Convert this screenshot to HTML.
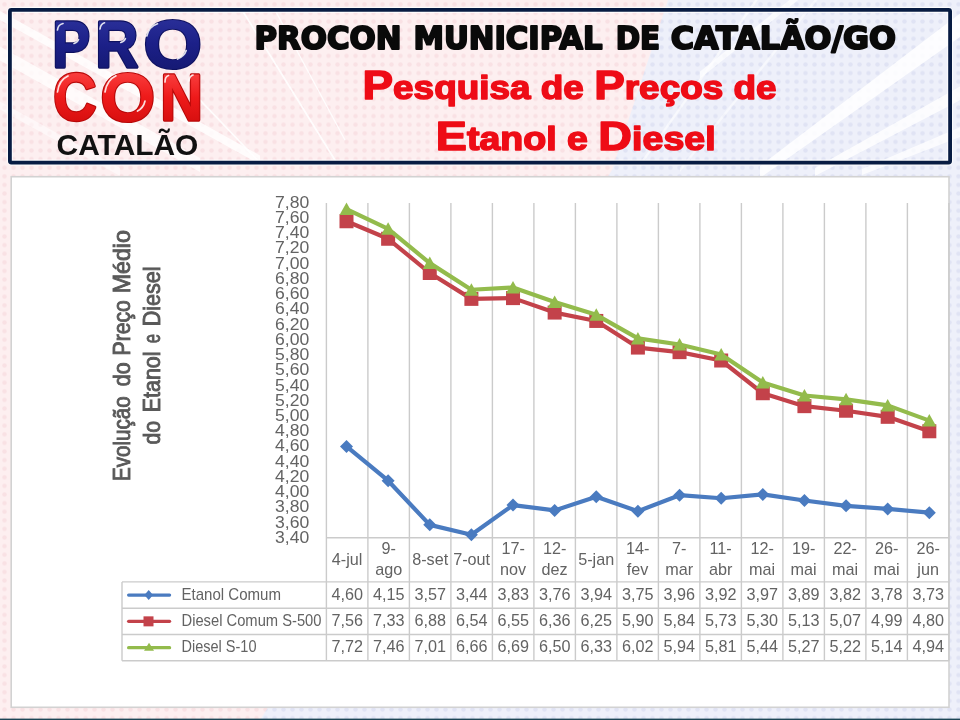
<!DOCTYPE html>
<html><head><meta charset="utf-8"><title>PROCON Catalão - Pesquisa de Preços</title>
<style>
html,body{margin:0;padding:0;}
body{width:960px;height:720px;overflow:hidden;position:relative;background:#f3e6ee;}
svg{position:absolute;left:0;top:0;display:block;}
.ax{font-family:'Liberation Sans', Arial, sans-serif;font-size:16.2px;fill:#636363;}
.yt{font-family:'Liberation Sans', Arial, sans-serif;font-size:23.2px;fill:#595959;stroke:#595959;stroke-width:0.9px;}
.t1{font-family:'DejaVu Sans','Liberation Sans',sans-serif;font-weight:bold;font-size:31.5px;fill:#0a0a0a;stroke:#0a0a0a;stroke-width:2px;stroke-linejoin:round;}
.t2{font-family:'Liberation Sans',sans-serif;font-weight:bold;font-size:33px;fill:#ee0c16;stroke:#ee0c16;stroke-width:1.5px;stroke-linejoin:round;}
.cap{font-size:41px;}
.logo{font-family:'Liberation Sans',sans-serif;font-weight:bold;stroke-linejoin:round;}
.cat{font-family:'Liberation Sans',Arial,sans-serif;font-weight:bold;font-size:29.6px;fill:#111;}
</style></head>
<body>
<svg width="960" height="720" viewBox="0 0 960 720">
<defs>
 <pattern id="dotsP" width="9" height="8.6" patternUnits="userSpaceOnUse"><rect width="9" height="8.6" fill="#fdeff0"/><circle cx="4.5" cy="4.3" r="2.2" fill="#f9e1e4"/></pattern>
 <pattern id="dotsB" width="9" height="8.6" patternUnits="userSpaceOnUse"><rect width="9" height="8.6" fill="#eef0fa"/><circle cx="4.5" cy="4.3" r="2.2" fill="#e0e3f4"/></pattern>
 <linearGradient id="gpro" x1="0" y1="0" x2="0" y2="1">
  <stop offset="0" stop-color="#3036a0"/><stop offset="0.5" stop-color="#1c2088"/><stop offset="1" stop-color="#12166a"/>
 </linearGradient>
 <linearGradient id="gcon" x1="0" y1="0" x2="0" y2="1">
  <stop offset="0" stop-color="#ff5050"/><stop offset="0.5" stop-color="#ee1a1a"/><stop offset="1" stop-color="#cc0a0a"/>
 </linearGradient>
</defs>
<rect x="0" y="0" width="960" height="720" fill="url(#dotsP)"/>
<polygon points="668,0 960,0 960,720 260,720 612,170" fill="url(#dotsB)"/>
<polygon points="-10,5.5 260,155.5 260,164.5 -10,14.5" fill="#ffffff" opacity="0.8"/>
<polygon points="-10,41.0 200,158.0 200,172.0 -10,55.0" fill="#ffffff" opacity="0.75"/>
<polygon points="-10,96.0 120,168.0 120,176.0 -10,104.0" fill="#ffffff" opacity="0.5"/>
<polygon points="760,166.0 970,6.0 970,30.0 760,178.0" fill="#ffffff" opacity="0.85"/>
<polygon points="815,168.0 970,81.0 970,95.0 815,176.0" fill="#ffffff" opacity="0.8"/>
<polygon points="862,169.0 970,123.0 970,133.0 862,175.0" fill="#ffffff" opacity="0.75"/>
<polygon points="700,71.5 800,-8.5 800,-1.5 700,78.5" fill="#ffffff" opacity="0.7"/>
<polygon points="640,163.0 760,-7.0 760,-3.0 640,167.0" fill="#ffffff" opacity="0.6"/>
<polygon points="680,168.0 820,-7.0 820,-3.0 680,172.0" fill="#ffffff" opacity="0.5"/>
<line x1="242" y1="10" x2="338" y2="165" stroke="#ffffff" stroke-width="1.6" opacity="0.9"/>
<line x1="275" y1="10" x2="345" y2="140" stroke="#ffffff" stroke-width="1.2" opacity="0.9"/>
<line x1="200" y1="100" x2="262" y2="165" stroke="#ffffff" stroke-width="1.6" opacity="0.9"/>
<!-- header -->
<rect x="9.9" y="9.9" width="940.2" height="152.7" rx="1.5" fill="none" stroke="#ffffff" stroke-width="6" opacity="0.8"/>
<rect x="9.9" y="9.9" width="940.2" height="152.7" rx="1.5" fill="none" stroke="#071b42" stroke-width="3.8"/>
<text transform="translate(52.43,66.66) scale(0.5621,0.6429)" class="logo" font-size="100" fill="#0e1160" stroke="#0e1160" stroke-width="3.2" stroke-linejoin="round" vector-effect="non-scaling-stroke">P</text>
<text transform="translate(52.43,66.66) scale(0.5621,0.6429)" class="logo" font-size="100" fill="url(#gpro)" stroke="url(#gpro)" stroke-width="1.0" stroke-linejoin="round" vector-effect="non-scaling-stroke">P</text>
<text transform="translate(95.55,67.30) scale(0.5923,0.6522)" class="logo" font-size="100" fill="#0e1160" stroke="#0e1160" stroke-width="3.2" stroke-linejoin="round" vector-effect="non-scaling-stroke">R</text>
<text transform="translate(95.55,67.30) scale(0.5923,0.6522)" class="logo" font-size="100" fill="url(#gpro)" stroke="url(#gpro)" stroke-width="1.0" stroke-linejoin="round" vector-effect="non-scaling-stroke">R</text>
<text transform="translate(143.59,67.72) scale(0.7514,0.6803)" class="logo" font-size="100" fill="#0e1160" stroke="#0e1160" stroke-width="3.2" stroke-linejoin="round" vector-effect="non-scaling-stroke">O</text>
<text transform="translate(143.59,67.72) scale(0.7514,0.6803)" class="logo" font-size="100" fill="url(#gpro)" stroke="url(#gpro)" stroke-width="1.0" stroke-linejoin="round" vector-effect="non-scaling-stroke">O</text>
<text transform="translate(53.21,120.24) scale(0.5985,0.6634)" class="logo" font-size="100" fill="#b80808" stroke="#b80808" stroke-width="3.2" stroke-linejoin="round" vector-effect="non-scaling-stroke">C</text>
<text transform="translate(53.21,120.24) scale(0.5985,0.6634)" class="logo" font-size="100" fill="url(#gcon)" stroke="url(#gcon)" stroke-width="1.0" stroke-linejoin="round" vector-effect="non-scaling-stroke">C</text>
<text transform="translate(100.49,120.72) scale(0.7014,0.6803)" class="logo" font-size="100" fill="#b80808" stroke="#b80808" stroke-width="3.2" stroke-linejoin="round" vector-effect="non-scaling-stroke">O</text>
<text transform="translate(100.49,120.72) scale(0.7014,0.6803)" class="logo" font-size="100" fill="url(#gcon)" stroke="url(#gcon)" stroke-width="1.0" stroke-linejoin="round" vector-effect="non-scaling-stroke">O</text>
<text transform="translate(160.59,119.90) scale(0.5850,0.6471)" class="logo" font-size="100" fill="#b80808" stroke="#b80808" stroke-width="3.2" stroke-linejoin="round" vector-effect="non-scaling-stroke">N</text>
<text transform="translate(160.59,119.90) scale(0.5850,0.6471)" class="logo" font-size="100" fill="url(#gcon)" stroke="url(#gcon)" stroke-width="1.0" stroke-linejoin="round" vector-effect="non-scaling-stroke">N</text>
<path d="M57.5,30 Q58,24.5 63,23.5" fill="none" stroke="#ffffff" stroke-width="1.7" stroke-linecap="round" opacity="0.85"/>
<path d="M74,43.5 Q77.5,42.5 78.5,39.5" fill="none" stroke="#ffffff" stroke-width="1.7" stroke-linecap="round" opacity="0.85"/>
<path d="M100,29 Q100.5,24 104.5,22.8" fill="none" stroke="#ffffff" stroke-width="1.7" stroke-linecap="round" opacity="0.85"/>
<path d="M120.8,42.5 Q124.5,41.5 125.4,38.5" fill="none" stroke="#ffffff" stroke-width="1.7" stroke-linecap="round" opacity="0.85"/>
<path d="M146.8,36 Q149,26.5 157.5,23.8" fill="none" stroke="#ffffff" stroke-width="1.7" stroke-linecap="round" opacity="0.85"/>
<path d="M177.5,59 Q184.5,56 186.2,50.5" fill="none" stroke="#ffffff" stroke-width="1.7" stroke-linecap="round" opacity="0.85"/>
<path d="M57.5,92 Q59,80 68,76" fill="none" stroke="#ffffff" stroke-width="1.7" stroke-linecap="round" opacity="0.85"/>
<path d="M105,92 Q107,80 116,75.8" fill="none" stroke="#ffffff" stroke-width="1.7" stroke-linecap="round" opacity="0.85"/>
<path d="M137.5,111 Q143.5,108 145,101" fill="none" stroke="#ffffff" stroke-width="1.7" stroke-linecap="round" opacity="0.85"/>
<path d="M165,82 Q165,76.5 168.5,75.5" fill="none" stroke="#ffffff" stroke-width="1.7" stroke-linecap="round" opacity="0.85"/>
<path d="M189,81 Q189.5,76 193,75" fill="none" stroke="#ffffff" stroke-width="1.7" stroke-linecap="round" opacity="0.85"/>
<text x="56.6" y="155" class="cat" textLength="141.8" lengthAdjust="spacingAndGlyphs">CATALÃO</text>
<text y="48.6" class="t1"><tspan x="254.44" textLength="147.17" lengthAdjust="spacingAndGlyphs">PROCON</tspan> <tspan x="413.46" textLength="189.11" lengthAdjust="spacingAndGlyphs">MUNICIPAL</tspan> <tspan x="615.73" textLength="44.48" lengthAdjust="spacingAndGlyphs">DE</tspan> <tspan x="670.69" textLength="225.39" lengthAdjust="spacingAndGlyphs">CATALÃO/GO</tspan></text>
<text x="362.5" y="98.8" class="t2" textLength="414.1" lengthAdjust="spacingAndGlyphs"><tspan class="cap">P</tspan>esquisa de <tspan class="cap">P</tspan>reços de</text>
<text x="435.8" y="149.6" class="t2" textLength="279.8" lengthAdjust="spacingAndGlyphs"><tspan class="cap">E</tspan>tanol e <tspan class="cap">D</tspan>iesel</text>
<!-- chart box -->
<rect x="11.2" y="176.7" width="937.8" height="530.6" fill="#ffffff" stroke="#d2d2d2" stroke-width="1.6"/>
<line x1="326.40" y1="203.0" x2="326.40" y2="660.8" stroke="#cbcbcb" stroke-width="1.4"/>
<line x1="367.90" y1="203.0" x2="367.90" y2="660.8" stroke="#cbcbcb" stroke-width="1.4"/>
<line x1="409.40" y1="203.0" x2="409.40" y2="660.8" stroke="#cbcbcb" stroke-width="1.4"/>
<line x1="450.90" y1="203.0" x2="450.90" y2="660.8" stroke="#cbcbcb" stroke-width="1.4"/>
<line x1="492.40" y1="203.0" x2="492.40" y2="660.8" stroke="#cbcbcb" stroke-width="1.4"/>
<line x1="533.90" y1="203.0" x2="533.90" y2="660.8" stroke="#cbcbcb" stroke-width="1.4"/>
<line x1="575.40" y1="203.0" x2="575.40" y2="660.8" stroke="#cbcbcb" stroke-width="1.4"/>
<line x1="616.90" y1="203.0" x2="616.90" y2="660.8" stroke="#cbcbcb" stroke-width="1.4"/>
<line x1="658.40" y1="203.0" x2="658.40" y2="660.8" stroke="#cbcbcb" stroke-width="1.4"/>
<line x1="699.90" y1="203.0" x2="699.90" y2="660.8" stroke="#cbcbcb" stroke-width="1.4"/>
<line x1="741.40" y1="203.0" x2="741.40" y2="660.8" stroke="#cbcbcb" stroke-width="1.4"/>
<line x1="782.90" y1="203.0" x2="782.90" y2="660.8" stroke="#cbcbcb" stroke-width="1.4"/>
<line x1="824.40" y1="203.0" x2="824.40" y2="660.8" stroke="#cbcbcb" stroke-width="1.4"/>
<line x1="865.90" y1="203.0" x2="865.90" y2="660.8" stroke="#cbcbcb" stroke-width="1.4"/>
<line x1="907.40" y1="203.0" x2="907.40" y2="660.8" stroke="#cbcbcb" stroke-width="1.4"/>
<line x1="948.90" y1="203.0" x2="948.90" y2="660.8" stroke="#cbcbcb" stroke-width="1.4"/>
<line x1="326.40" y1="537.8" x2="948.9" y2="537.8" stroke="#cbcbcb" stroke-width="1.4"/>
<line x1="122" y1="581.9" x2="948.9" y2="581.9" stroke="#cbcbcb" stroke-width="1.4"/>
<line x1="122" y1="608.2" x2="948.9" y2="608.2" stroke="#cbcbcb" stroke-width="1.4"/>
<line x1="122" y1="634.5" x2="948.9" y2="634.5" stroke="#cbcbcb" stroke-width="1.4"/>
<line x1="122" y1="660.8" x2="948.9" y2="660.8" stroke="#cbcbcb" stroke-width="1.4"/>
<line x1="122" y1="581.9" x2="122" y2="660.8" stroke="#cbcbcb" stroke-width="1.4"/>
<text x="309.3" y="207.80" text-anchor="end" class="ax" textLength="34.2" lengthAdjust="spacingAndGlyphs">7,80</text>
<text x="309.3" y="223.03" text-anchor="end" class="ax" textLength="34.2" lengthAdjust="spacingAndGlyphs">7,60</text>
<text x="309.3" y="238.26" text-anchor="end" class="ax" textLength="34.2" lengthAdjust="spacingAndGlyphs">7,40</text>
<text x="309.3" y="253.49" text-anchor="end" class="ax" textLength="34.2" lengthAdjust="spacingAndGlyphs">7,20</text>
<text x="309.3" y="268.72" text-anchor="end" class="ax" textLength="34.2" lengthAdjust="spacingAndGlyphs">7,00</text>
<text x="309.3" y="283.95" text-anchor="end" class="ax" textLength="34.2" lengthAdjust="spacingAndGlyphs">6,80</text>
<text x="309.3" y="299.18" text-anchor="end" class="ax" textLength="34.2" lengthAdjust="spacingAndGlyphs">6,60</text>
<text x="309.3" y="314.41" text-anchor="end" class="ax" textLength="34.2" lengthAdjust="spacingAndGlyphs">6,40</text>
<text x="309.3" y="329.64" text-anchor="end" class="ax" textLength="34.2" lengthAdjust="spacingAndGlyphs">6,20</text>
<text x="309.3" y="344.87" text-anchor="end" class="ax" textLength="34.2" lengthAdjust="spacingAndGlyphs">6,00</text>
<text x="309.3" y="360.10" text-anchor="end" class="ax" textLength="34.2" lengthAdjust="spacingAndGlyphs">5,80</text>
<text x="309.3" y="375.33" text-anchor="end" class="ax" textLength="34.2" lengthAdjust="spacingAndGlyphs">5,60</text>
<text x="309.3" y="390.56" text-anchor="end" class="ax" textLength="34.2" lengthAdjust="spacingAndGlyphs">5,40</text>
<text x="309.3" y="405.79" text-anchor="end" class="ax" textLength="34.2" lengthAdjust="spacingAndGlyphs">5,20</text>
<text x="309.3" y="421.02" text-anchor="end" class="ax" textLength="34.2" lengthAdjust="spacingAndGlyphs">5,00</text>
<text x="309.3" y="436.25" text-anchor="end" class="ax" textLength="34.2" lengthAdjust="spacingAndGlyphs">4,80</text>
<text x="309.3" y="451.48" text-anchor="end" class="ax" textLength="34.2" lengthAdjust="spacingAndGlyphs">4,60</text>
<text x="309.3" y="466.71" text-anchor="end" class="ax" textLength="34.2" lengthAdjust="spacingAndGlyphs">4,40</text>
<text x="309.3" y="481.94" text-anchor="end" class="ax" textLength="34.2" lengthAdjust="spacingAndGlyphs">4,20</text>
<text x="309.3" y="497.17" text-anchor="end" class="ax" textLength="34.2" lengthAdjust="spacingAndGlyphs">4,00</text>
<text x="309.3" y="512.40" text-anchor="end" class="ax" textLength="34.2" lengthAdjust="spacingAndGlyphs">3,80</text>
<text x="309.3" y="527.63" text-anchor="end" class="ax" textLength="34.2" lengthAdjust="spacingAndGlyphs">3,60</text>
<text x="309.3" y="542.86" text-anchor="end" class="ax" textLength="34.2" lengthAdjust="spacingAndGlyphs">3,40</text>
<text x="347.15" y="565.2" text-anchor="middle" class="ax">4-jul</text>
<text x="388.65" y="554.2" text-anchor="middle" class="ax">9-</text>
<text x="388.65" y="574.7" text-anchor="middle" class="ax">ago</text>
<text x="430.15" y="565.2" text-anchor="middle" class="ax">8-set</text>
<text x="471.65" y="565.2" text-anchor="middle" class="ax">7-out</text>
<text x="513.15" y="554.2" text-anchor="middle" class="ax">17-</text>
<text x="513.15" y="574.7" text-anchor="middle" class="ax">nov</text>
<text x="554.65" y="554.2" text-anchor="middle" class="ax">12-</text>
<text x="554.65" y="574.7" text-anchor="middle" class="ax">dez</text>
<text x="596.15" y="565.2" text-anchor="middle" class="ax">5-jan</text>
<text x="637.65" y="554.2" text-anchor="middle" class="ax">14-</text>
<text x="637.65" y="574.7" text-anchor="middle" class="ax">fev</text>
<text x="679.15" y="554.2" text-anchor="middle" class="ax">7-</text>
<text x="679.15" y="574.7" text-anchor="middle" class="ax">mar</text>
<text x="720.65" y="554.2" text-anchor="middle" class="ax">11-</text>
<text x="720.65" y="574.7" text-anchor="middle" class="ax">abr</text>
<text x="762.15" y="554.2" text-anchor="middle" class="ax">12-</text>
<text x="762.15" y="574.7" text-anchor="middle" class="ax">mai</text>
<text x="803.65" y="554.2" text-anchor="middle" class="ax">19-</text>
<text x="803.65" y="574.7" text-anchor="middle" class="ax">mai</text>
<text x="845.15" y="554.2" text-anchor="middle" class="ax">22-</text>
<text x="845.15" y="574.7" text-anchor="middle" class="ax">mai</text>
<text x="886.65" y="554.2" text-anchor="middle" class="ax">26-</text>
<text x="886.65" y="574.7" text-anchor="middle" class="ax">mai</text>
<text x="928.15" y="554.2" text-anchor="middle" class="ax">26-</text>
<text x="928.15" y="574.7" text-anchor="middle" class="ax">jun</text>
<text x="347.15" y="599.70" text-anchor="middle" class="ax">4,60</text>
<text x="388.65" y="599.70" text-anchor="middle" class="ax">4,15</text>
<text x="430.15" y="599.70" text-anchor="middle" class="ax">3,57</text>
<text x="471.65" y="599.70" text-anchor="middle" class="ax">3,44</text>
<text x="513.15" y="599.70" text-anchor="middle" class="ax">3,83</text>
<text x="554.65" y="599.70" text-anchor="middle" class="ax">3,76</text>
<text x="596.15" y="599.70" text-anchor="middle" class="ax">3,94</text>
<text x="637.65" y="599.70" text-anchor="middle" class="ax">3,75</text>
<text x="679.15" y="599.70" text-anchor="middle" class="ax">3,96</text>
<text x="720.65" y="599.70" text-anchor="middle" class="ax">3,92</text>
<text x="762.15" y="599.70" text-anchor="middle" class="ax">3,97</text>
<text x="803.65" y="599.70" text-anchor="middle" class="ax">3,89</text>
<text x="845.15" y="599.70" text-anchor="middle" class="ax">3,82</text>
<text x="886.65" y="599.70" text-anchor="middle" class="ax">3,78</text>
<text x="928.15" y="599.70" text-anchor="middle" class="ax">3,73</text>
<text x="347.15" y="626.00" text-anchor="middle" class="ax">7,56</text>
<text x="388.65" y="626.00" text-anchor="middle" class="ax">7,33</text>
<text x="430.15" y="626.00" text-anchor="middle" class="ax">6,88</text>
<text x="471.65" y="626.00" text-anchor="middle" class="ax">6,54</text>
<text x="513.15" y="626.00" text-anchor="middle" class="ax">6,55</text>
<text x="554.65" y="626.00" text-anchor="middle" class="ax">6,36</text>
<text x="596.15" y="626.00" text-anchor="middle" class="ax">6,25</text>
<text x="637.65" y="626.00" text-anchor="middle" class="ax">5,90</text>
<text x="679.15" y="626.00" text-anchor="middle" class="ax">5,84</text>
<text x="720.65" y="626.00" text-anchor="middle" class="ax">5,73</text>
<text x="762.15" y="626.00" text-anchor="middle" class="ax">5,30</text>
<text x="803.65" y="626.00" text-anchor="middle" class="ax">5,13</text>
<text x="845.15" y="626.00" text-anchor="middle" class="ax">5,07</text>
<text x="886.65" y="626.00" text-anchor="middle" class="ax">4,99</text>
<text x="928.15" y="626.00" text-anchor="middle" class="ax">4,80</text>
<text x="347.15" y="652.30" text-anchor="middle" class="ax">7,72</text>
<text x="388.65" y="652.30" text-anchor="middle" class="ax">7,46</text>
<text x="430.15" y="652.30" text-anchor="middle" class="ax">7,01</text>
<text x="471.65" y="652.30" text-anchor="middle" class="ax">6,66</text>
<text x="513.15" y="652.30" text-anchor="middle" class="ax">6,69</text>
<text x="554.65" y="652.30" text-anchor="middle" class="ax">6,50</text>
<text x="596.15" y="652.30" text-anchor="middle" class="ax">6,33</text>
<text x="637.65" y="652.30" text-anchor="middle" class="ax">6,02</text>
<text x="679.15" y="652.30" text-anchor="middle" class="ax">5,94</text>
<text x="720.65" y="652.30" text-anchor="middle" class="ax">5,81</text>
<text x="762.15" y="652.30" text-anchor="middle" class="ax">5,44</text>
<text x="803.65" y="652.30" text-anchor="middle" class="ax">5,27</text>
<text x="845.15" y="652.30" text-anchor="middle" class="ax">5,22</text>
<text x="886.65" y="652.30" text-anchor="middle" class="ax">5,14</text>
<text x="928.15" y="652.30" text-anchor="middle" class="ax">4,94</text>
<line x1="128.6" y1="595.05" x2="169.6" y2="595.05" stroke="#4a7bc0" stroke-width="3.2" stroke-linecap="round"/>
<polygon points="148.7,590.05 153,595.05 148.7,600.05 144.4,595.05" fill="#4a7bc0"/>
<text x="181.5" y="599.65" class="ax" textLength="99.5" lengthAdjust="spacingAndGlyphs">Etanol Comum</text>
<line x1="128.6" y1="621.35" x2="169.6" y2="621.35" stroke="#c3424a" stroke-width="3.2" stroke-linecap="round"/>
<rect x="143.5" y="616.35" width="10" height="10" fill="#c3424a"/>
<text x="181.5" y="625.95" class="ax" textLength="140" lengthAdjust="spacingAndGlyphs">Diesel Comum S-500</text>
<line x1="128.6" y1="647.65" x2="169.6" y2="647.65" stroke="#93bb4c" stroke-width="3.2" stroke-linecap="round"/>
<polygon points="149,642.65 154,650.65 144,650.65" fill="#93bb4c"/>
<text x="181.5" y="652.25" class="ax" textLength="75" lengthAdjust="spacingAndGlyphs">Diesel S-10</text>
<polyline points="346.50,446.49 388.13,480.73 429.76,524.86 471.39,534.76 513.02,505.08 554.65,510.41 596.28,496.71 637.91,511.17 679.54,495.19 721.17,498.23 762.80,494.43 804.43,500.52 846.06,505.84 887.69,508.89 929.32,512.69" fill="none" stroke="#4a7bc0" stroke-width="4.2" stroke-linejoin="round"/>
<polygon points="346.50,439.99 353.00,446.49 346.50,452.99 340.00,446.49" fill="#4a7bc0"/>
<polygon points="388.13,474.23 394.63,480.73 388.13,487.23 381.63,480.73" fill="#4a7bc0"/>
<polygon points="429.76,518.36 436.26,524.86 429.76,531.36 423.26,524.86" fill="#4a7bc0"/>
<polygon points="471.39,528.26 477.89,534.76 471.39,541.26 464.89,534.76" fill="#4a7bc0"/>
<polygon points="513.02,498.58 519.52,505.08 513.02,511.58 506.52,505.08" fill="#4a7bc0"/>
<polygon points="554.65,503.91 561.15,510.41 554.65,516.91 548.15,510.41" fill="#4a7bc0"/>
<polygon points="596.28,490.21 602.78,496.71 596.28,503.21 589.78,496.71" fill="#4a7bc0"/>
<polygon points="637.91,504.67 644.41,511.17 637.91,517.67 631.41,511.17" fill="#4a7bc0"/>
<polygon points="679.54,488.69 686.04,495.19 679.54,501.69 673.04,495.19" fill="#4a7bc0"/>
<polygon points="721.17,491.73 727.67,498.23 721.17,504.73 714.67,498.23" fill="#4a7bc0"/>
<polygon points="762.80,487.93 769.30,494.43 762.80,500.93 756.30,494.43" fill="#4a7bc0"/>
<polygon points="804.43,494.02 810.93,500.52 804.43,507.02 797.93,500.52" fill="#4a7bc0"/>
<polygon points="846.06,499.34 852.56,505.84 846.06,512.34 839.56,505.84" fill="#4a7bc0"/>
<polygon points="887.69,502.39 894.19,508.89 887.69,515.39 881.19,508.89" fill="#4a7bc0"/>
<polygon points="929.32,506.19 935.82,512.69 929.32,519.19 922.82,512.69" fill="#4a7bc0"/>
<polyline points="346.50,221.26 388.13,238.76 429.76,273.00 471.39,298.87 513.02,298.11 554.65,312.57 596.28,320.94 637.91,347.57 679.54,352.14 721.17,360.51 762.80,393.23 804.43,406.16 846.06,410.73 887.69,416.82 929.32,431.27" fill="none" stroke="#c3424a" stroke-width="4.2" stroke-linejoin="round"/>
<rect x="339.50" y="214.26" width="14" height="14" fill="#c3424a"/>
<rect x="381.13" y="231.76" width="14" height="14" fill="#c3424a"/>
<rect x="422.76" y="266.00" width="14" height="14" fill="#c3424a"/>
<rect x="464.39" y="291.87" width="14" height="14" fill="#c3424a"/>
<rect x="506.02" y="291.11" width="14" height="14" fill="#c3424a"/>
<rect x="547.65" y="305.57" width="14" height="14" fill="#c3424a"/>
<rect x="589.28" y="313.94" width="14" height="14" fill="#c3424a"/>
<rect x="630.91" y="340.57" width="14" height="14" fill="#c3424a"/>
<rect x="672.54" y="345.14" width="14" height="14" fill="#c3424a"/>
<rect x="714.17" y="353.51" width="14" height="14" fill="#c3424a"/>
<rect x="755.80" y="386.23" width="14" height="14" fill="#c3424a"/>
<rect x="797.43" y="399.16" width="14" height="14" fill="#c3424a"/>
<rect x="839.06" y="403.73" width="14" height="14" fill="#c3424a"/>
<rect x="880.69" y="409.82" width="14" height="14" fill="#c3424a"/>
<rect x="922.32" y="424.27" width="14" height="14" fill="#c3424a"/>
<polyline points="346.50,209.09 388.13,228.87 429.76,263.11 471.39,289.74 513.02,287.46 554.65,301.92 596.28,314.85 637.91,338.44 679.54,344.53 721.17,354.42 762.80,382.57 804.43,395.51 846.06,399.31 887.69,405.40 929.32,420.62" fill="none" stroke="#93bb4c" stroke-width="4.2" stroke-linejoin="round"/>
<polygon points="346.50,202.59 353.50,215.09 339.50,215.09" fill="#93bb4c"/>
<polygon points="388.13,222.37 395.13,234.87 381.13,234.87" fill="#93bb4c"/>
<polygon points="429.76,256.61 436.76,269.11 422.76,269.11" fill="#93bb4c"/>
<polygon points="471.39,283.24 478.39,295.74 464.39,295.74" fill="#93bb4c"/>
<polygon points="513.02,280.96 520.02,293.46 506.02,293.46" fill="#93bb4c"/>
<polygon points="554.65,295.42 561.65,307.92 547.65,307.92" fill="#93bb4c"/>
<polygon points="596.28,308.35 603.28,320.85 589.28,320.85" fill="#93bb4c"/>
<polygon points="637.91,331.94 644.91,344.44 630.91,344.44" fill="#93bb4c"/>
<polygon points="679.54,338.03 686.54,350.53 672.54,350.53" fill="#93bb4c"/>
<polygon points="721.17,347.92 728.17,360.42 714.17,360.42" fill="#93bb4c"/>
<polygon points="762.80,376.07 769.80,388.57 755.80,388.57" fill="#93bb4c"/>
<polygon points="804.43,389.01 811.43,401.51 797.43,401.51" fill="#93bb4c"/>
<polygon points="846.06,392.81 853.06,405.31 839.06,405.31" fill="#93bb4c"/>
<polygon points="887.69,398.90 894.69,411.40 880.69,411.40" fill="#93bb4c"/>
<polygon points="929.32,414.12 936.32,426.62 922.32,426.62" fill="#93bb4c"/>
<text transform="translate(130,0) rotate(-90)" class="yt"><tspan x="-481.04" textLength="84.68" lengthAdjust="spacingAndGlyphs">Evolução</tspan> <tspan x="-386.25" textLength="23.83" lengthAdjust="spacingAndGlyphs">do</tspan> <tspan x="-355.46" textLength="55.23" lengthAdjust="spacingAndGlyphs">Preço</tspan> <tspan x="-293.35" textLength="63.3" lengthAdjust="spacingAndGlyphs">Médio</tspan></text>
<text transform="translate(160,0) rotate(-90)" class="yt"><tspan x="-444.55" textLength="23.62" lengthAdjust="spacingAndGlyphs">do</tspan> <tspan x="-412.17" textLength="60.69" lengthAdjust="spacingAndGlyphs">Etanol</tspan> <tspan x="-343.3" textLength="9.3" lengthAdjust="spacingAndGlyphs">e</tspan> <tspan x="-326.28" textLength="59.69" lengthAdjust="spacingAndGlyphs">Diesel</tspan></text>
<!-- bottom bar -->
<rect x="0" y="718.6" width="960" height="1.4" fill="#1d4656"/>
</svg>
</body></html>
